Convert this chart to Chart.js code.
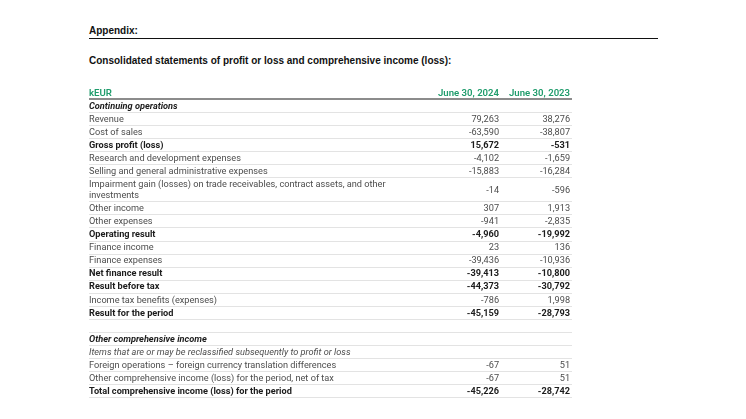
<!DOCTYPE html>
<html>
<head>
<meta charset="utf-8">
<script src="https://cdn.jsdelivr.net/npm/chart.js@4"></script>
<style>
  body { margin: 0; background: #fff; width: 746px; height: 419px; overflow: hidden; position: relative; }
  .ttl { position: absolute; left: 89px; font-family: 'Liberation Sans', Arial, sans-serif; font-weight: bold; font-size: 10px; color: #111; white-space: nowrap; }
  #rule { position: absolute; left: 89px; top: 38px; width: 569px; height: 1px; background: #111; }
  #tbl { position: absolute; left: 0; top: 0; }
</style>
</head>
<body>
<div class="ttl" style="top:25px">Appendix:</div>
<div id="rule"></div>
<div class="ttl" style="top:55px">Consolidated statements of profit or loss and comprehensive income (loss):</div>
<canvas id="tbl" width="746" height="419"></canvas>
<script>
// table data
const columnLabels = ['kEUR', 'June 30, 2024', 'June 30, 2023'];
const rowLabels = [
  'Continuing operations',
  'Revenue',
  'Cost of sales',
  'Gross profit (loss)',
  'Research and development expenses',
  'Selling and general administrative expenses',
  ['Impairment gain (losses) on trade receivables, contract assets, and other', 'investments'],
  'Other income',
  'Other expenses',
  'Operating result',
  'Finance income',
  'Finance expenses',
  'Net finance result',
  'Result before tax',
  'Income tax benefits (expenses)',
  'Result for the period',
  '',
  'Other comprehensive income',
  'Items that are or may be reclassified subsequently to profit or loss',
  'Foreign operations \u2013 foreign currency translation differences',
  'Other comprehensive income (loss) for the period, net of tax',
  'Total comprehensive income (loss) for the period'
];
const values2024 = [null, 79263, -63590, 15672, -4102, -15883, -14, 307, -941, -4960, 23, -39436, -39413, -44373, -786, -45159, null, null, null, -67, -67, -45226];
const values2023 = [null, 38276, -38807, -531, -1659, -16284, -596, 1913, -2835, -19992, 136, -10936, -10800, -30792, 1998, -28793, null, null, null, 51, 51, -28742];

const boldRows = ['Continuing operations', 'Gross profit (loss)', 'Operating result', 'Net finance result',
  'Result before tax', 'Result for the period', 'Other comprehensive income',
  'Total comprehensive income (loss) for the period'];
const italicRows = ['Continuing operations', 'Other comprehensive income',
  'Items that are or may be reclassified subsequently to profit or loss'];

// row heights in "row units" (header = 1)
const lineUnits = 0.85;
const rowUnits = rowLabels.map(l => Array.isArray(l) ? 1 + lineUnits * (l.length - 1) : 1);
const totalUnits = 1 + rowUnits.reduce((a, b) => a + b, 0);

const GREEN = '#1f9c6c';
const FONT = 'Roboto, "Noto Sans", sans-serif';
const fmt = v => (v < 0 ? '-' : '') + Math.abs(v).toLocaleString('en-US');

const tablePlugin = {
  id: 'tableCells',
  afterDraw(chart) {
    const { ctx, scales: { x, y } } = chart;
    const left = x.getPixelForValue(0), right = x.getPixelForValue(1);
    const colRight = [null, x.getPixelForValue(0.849), x.getPixelForValue(0.996)];
    const dy = 1; // text sits a touch low in each row
    ctx.save();
    ctx.textBaseline = 'middle';

    // header
    const hy = y.getPixelForValue(0.5) + dy;
    ctx.fillStyle = GREEN;
    ctx.font = '600 9.6px ' + FONT;
    ctx.textAlign = 'left';
    ctx.fillText(columnLabels[0], left, hy);
    ctx.textAlign = 'right';
    ctx.fillText(columnLabels[1], colRight[1], hy);
    ctx.fillText(columnLabels[2], colRight[2], hy);

    // rows
    let top = 1;
    const lines = [];
    rowLabels.forEach((label, i) => {
      const name = Array.isArray(label) ? label[0] : label;
      const bold = boldRows.includes(name);
      const italic = italicRows.includes(name);
      const mid = y.getPixelForValue(top + rowUnits[i] / 2) + dy;
      ctx.fillStyle = bold ? '#1c1c1c' : '#4d4d4d';
      ctx.font = (italic ? 'italic ' : '') + (bold ? '700 ' : '400 ') + '9.2px ' + FONT;
      ctx.textAlign = 'left';
      const parts = Array.isArray(label) ? label : [label];
      const step = y.getPixelForValue(lineUnits) - y.getPixelForValue(0);
      parts.forEach((p, k) => {
        ctx.fillText(p, left, mid + (k - (parts.length - 1) / 2) * step);
      });
      ctx.font = (bold ? '700 ' : '400 ') + '9.2px ' + FONT;
      ctx.textAlign = 'right';
      if (values2024[i] != null) ctx.fillText(fmt(values2024[i]), colRight[1], mid);
      if (values2023[i] != null) ctx.fillText(fmt(values2023[i]), colRight[2], mid);
      top += rowUnits[i];
      lines.push(top);
    });

    // separators
    ctx.strokeStyle = '#e3e3e3';
    ctx.lineWidth = 1;
    lines.forEach(u => {
      const py = Math.round(y.getPixelForValue(u)) + 0.5;
      ctx.beginPath(); ctx.moveTo(left, py); ctx.lineTo(right, py); ctx.stroke();
    });
    ctx.strokeStyle = '#666';
    ctx.lineWidth = 1.5;
    const py = y.getPixelForValue(1);
    ctx.beginPath(); ctx.moveTo(left, py); ctx.lineTo(right, py); ctx.stroke();
    ctx.restore();
  }
};

new Chart(document.getElementById('tbl'), {
  type: 'scatter',
  data: { datasets: [] },
  options: {
    responsive: false,
    animation: false,
    layout: { padding: { left: 89, right: 174, top: 86, bottom: 22 } },
    plugins: { legend: { display: false }, tooltip: { enabled: false } },
    scales: {
      x: { type: 'linear', min: 0, max: 1, display: false },
      y: { type: 'linear', min: 0, max: totalUnits, reverse: true, display: false }
    }
  },
  plugins: [tablePlugin]
});
</script>
</body>
</html>
